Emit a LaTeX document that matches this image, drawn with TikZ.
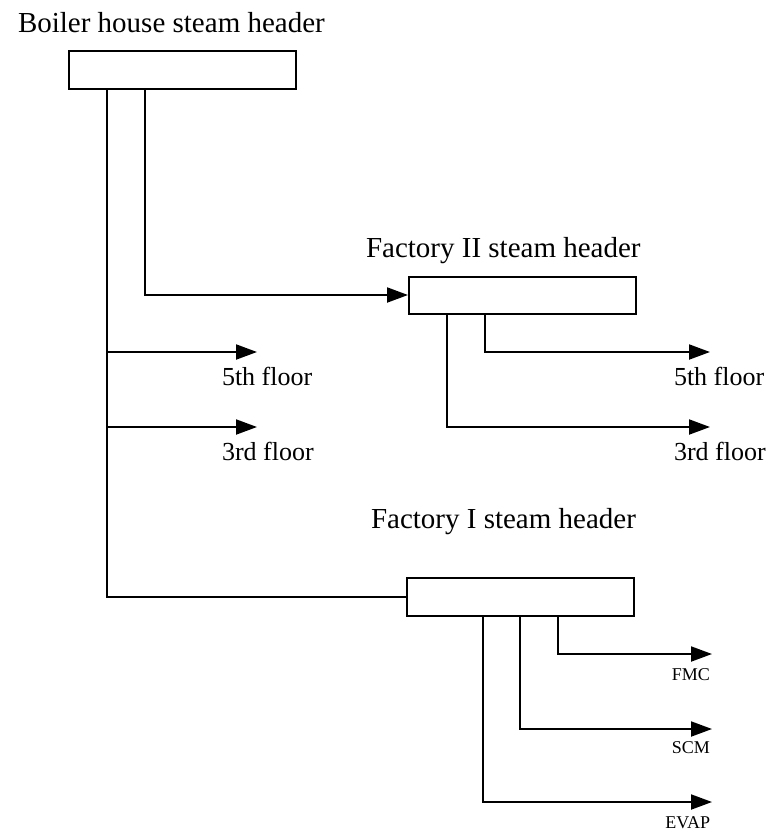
\documentclass[tikz,border=0pt]{standalone}
\usepackage{fontspec}
\setmainfont{Liberation Serif}
\usetikzlibrary{arrows.meta}
\begin{document}
\begin{tikzpicture}[x=1pt,y=-1pt,
  line width=2pt,
  header/.style={draw, rectangle, minimum width=227pt, minimum height=38pt, inner sep=0pt},
  arr/.style={-{Triangle[length=21pt,width=15pt]}},
  title/.style={anchor=base west, inner sep=0pt, font=\fontsize{29}{34}\selectfont},
  floorlab/.style={anchor=base west, inner sep=0pt, font=\fontsize{26}{31}\selectfont},
  smalllab/.style={anchor=base east, inner sep=0pt, font=\fontsize{18}{21}\selectfont}]
\useasboundingbox (0,0) rectangle (768,836);

% headers
\node[header] (boiler) at (182.5,70) {};
\node[header, minimum height=37pt] (fII) at (522.5,295) {};
\node[header] (fI) at (520.5,597) {};

% titles
\node[title] (tboiler) at (17,32) {Boiler house steam header};
\node[title] (tfII) at (365,257) {Factory II steam header};
\node[title] (tfI) at (370,528) {Factory I steam header};

% arrow tip coordinates
\coordinate (l5) at (257,352);
\coordinate (l3) at (257,427);
\coordinate (r5) at (710,352);
\coordinate (r3) at (710,427);
\coordinate (fmc) at (712,654);
\coordinate (scm) at (712,729);
\coordinate (evap) at (712,802);
\coordinate (j5) at (107,352);
\coordinate (j3) at (107,427);

% boiler house connectors
\draw (boiler.south -| 107,0) |- (fI.west);
\draw[arr] (boiler.south -| 145,0) |- (fII.west);
\draw[arr] (j5) -- (l5);
\draw[arr] (j3) -- (l3);

% factory II branches
\draw[arr] (fII.south -| 485,0) |- (r5);
\draw[arr] (fII.south -| 447,0) |- (r3);

% factory I branches
\draw[arr] (fI.south -| 558,0) |- (fmc);
\draw[arr] (fI.south -| 520,0) |- (scm);
\draw[arr] (fI.south -| 483,0) |- (evap);

% labels
\node[floorlab] (lab5l) at (221,385) {5th floor};
\node[floorlab] (lab3l) at (221,460) {3rd floor};
\node[floorlab] (lab5r) at (673,385) {5th floor};
\node[floorlab] (lab3r) at (673,460) {3rd floor};
\node[smalllab] (labfmc) at (711,680) {FMC};
\node[smalllab] (labscm) at (711,753) {SCM};
\node[smalllab] (labevap) at (711,828) {EVAP};
\end{tikzpicture}
\end{document}
